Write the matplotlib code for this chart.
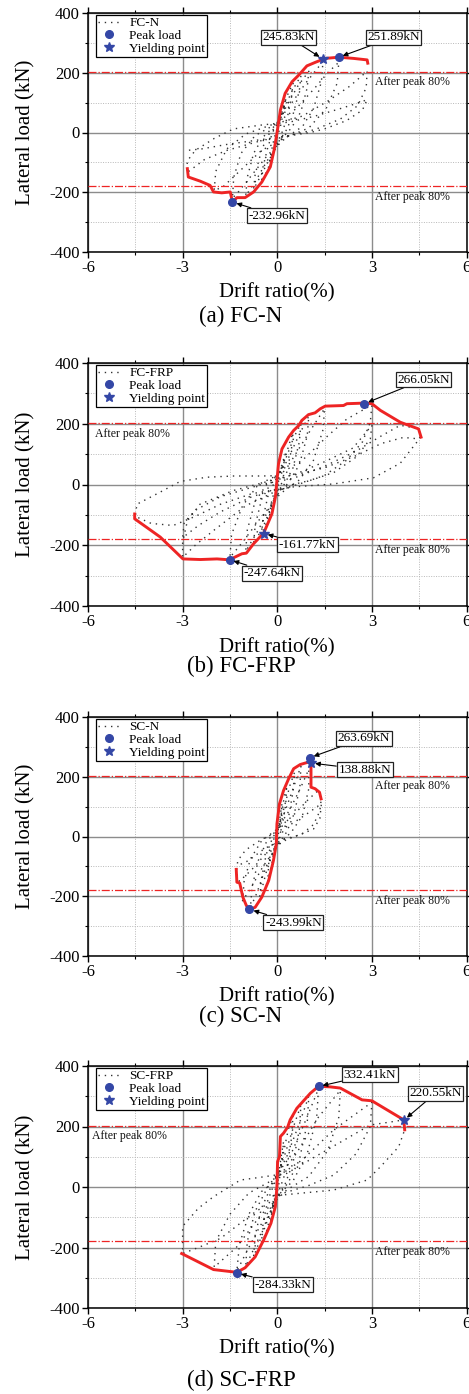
import numpy as np
import matplotlib
matplotlib.use("Agg")
import matplotlib.pyplot as plt
from matplotlib.ticker import MultipleLocator

plt.rcParams['font.family'] = ['Liberation Serif', 'DejaVu Serif']
plt.rcParams['axes.unicode_minus'] = False

# ---- data (drift %, load kN) ----
specimens = ['FC-N', 'FC-FRP', 'SC-N', 'SC-FRP']
captions = ['(a) FC-N', '(b) FC-FRP', '(c) SC-N', '(d) SC-FRP']

# hysteresis paths (dotted)
fcn_loop = [
    (0, 0), (0.08, 40), (0.18, 80), (0.25, 105), (0.2, 70), (0.1, 20), (0, -15), (-0.12, -60), (-0.25, -105),
    (-0.2, -70), (-0.1, -20), (0, 15),
    (0.15, 70), (0.3, 120), (0.5, 165), (0.45, 120), (0.32, 50), (0.15, 0), (0, -35), (-0.2, -95), (-0.35, -135),
    (-0.5, -165), (-0.45, -115), (-0.3, -50), (-0.15, 0), (0, 30),
    (0.2, 75), (0.45, 135), (0.75, 190), (0.7, 140), (0.5, 60), (0.3, 10), (0.05, -30), (-0.3, -100), (-0.55, -150),
    (-0.75, -190), (-0.7, -140), (-0.5, -60), (-0.3, -10), (0, 25),
    (0.3, 90), (0.65, 155), (1.0, 205), (0.95, 150), (0.75, 70), (0.45, 15), (0.1, -25), (-0.35, -100), (-0.7, -165),
    (-1.0, -212), (-0.95, -150), (-0.75, -70), (-0.45, -15), (-0.1, 20),
    (0.4, 90), (0.9, 165), (1.2, 205), (1.45, 238), (1.4, 170), (1.15, 80), (0.8, 20), (0.3, -15), (-0.3, -75),
    (-0.9, -155), (-1.2, -195), (-1.42, -220), (-1.38, -150), (-1.15, -70), (-0.7, -10), (-0.1, 25),
    (0.6, 80), (1.2, 150), (1.6, 200), (1.95, 235), (1.9, 165), (1.55, 80), (1.0, 15), (0.3, -15), (-0.5, -60),
    (-1.2, -130), (-1.7, -180), (-2.0, -195), (-1.95, -130), (-1.6, -55), (-1.0, -5), (-0.2, 25),
    (0.8, 55), (1.6, 105), (2.3, 155), (2.85, 205), (2.82, 150), (2.55, 90), (2.0, 45), (1.2, 10), (0.4, -10),
    (-0.6, -30), (-1.6, -60), (-2.3, -90), (-2.87, -135), (-2.85, -95), (-2.6, -60), (-2.0, -20), (-1.39, 12),
    (-0.5, 25), (0.4, 35),
    (1.2, 55), (2.0, 80), (2.6, 100), (2.85, 110), (2.7, 75), (2.2, 40), (1.5, 12), (1.05, 0), (0.3, -12),
    (-0.6, -25), (-1.6, -40), (-2.4, -55), (-2.87, -60),
]
fcfrp_loop = [
    (0, 0), (0.1, 50), (0.25, 100), (0.2, 60), (0.05, 5), (-0.1, -50), (-0.25, -110), (-0.2, -65), (-0.05, -5),
    (0.2, 70), (0.4, 140), (0.5, 170), (0.45, 115), (0.3, 40), (0.1, -5), (-0.15, -60), (-0.35, -130), (-0.5, -165),
    (-0.45, -110), (-0.3, -40), (-0.1, 5),
    (0.25, 80), (0.55, 160), (0.75, 200), (0.7, 140), (0.5, 55), (0.25, 5), (-0.1, -50), (-0.45, -140), (-0.75, -195),
    (-0.7, -135), (-0.5, -50), (-0.2, 5),
    (0.3, 75), (0.7, 165), (1.0, 225), (0.95, 160), (0.7, 65), (0.35, 5), (-0.1, -45), (-0.6, -150), (-1.0, -220),
    (-0.95, -150), (-0.7, -55), (-0.3, 5),
    (0.4, 70), (1.0, 170), (1.5, 250), (1.45, 180), (1.15, 80), (0.7, 15), (0.1, -30), (-0.6, -120), (-1.1, -190),
    (-1.5, -240), (-1.45, -165), (-1.1, -70), (-0.6, 0), (0, 30),
    (0.8, 80), (1.6, 160), (2.2, 215), (3.0, 262), (2.95, 205), (2.7, 140), (2.2, 80), (1.5, 30), (0.8, 5), (0, -20),
    (-1.0, -70), (-2.0, -150), (-2.6, -200), (-3.0, -240), (-3.0, -190), (-2.85, -120), (-2.45, -65), (-1.4, -20),
    (-0.3, 10),
    (0.6, 35), (1.5, 75), (2.4, 120), (3.0, 195), (2.95, 150), (2.5, 90), (1.8, 40), (1.1, 15), (0.3, -5),
    (-0.8, -40), (-1.8, -90), (-2.5, -135), (-3.0, -175), (-2.95, -125), (-2.6, -85), (-1.8, -40), (-0.5, 0),
    (0.5, 20), (1.5, 60), (2.5, 110), (3.3, 160), (3.9, 195), (4.5, 183), (4.52, 155), (4.43, 140), (3.9, 70),
    (3.05, 22), (1.8, 2), (0.5, -8), (-0.8, -30), (-1.8, -65), (-2.6, -105), (-3.3, -135), (-4.0, -128),
    (-4.5, -105), (-4.45, -65), (-3.71, -25), (-3.08, 10), (-2.23, 24), (-1.38, 28), (-0.5, 28), (0.5, 30),
    (1.5, 55), (2.5, 95), (3.3, 135), (4.0, 155), (4.5, 150),
]
scn_loop = [
    (0, 0), (0.08, 60), (0.15, 110), (0.12, 60), (0.03, 5), (-0.06, -50), (-0.15, -100), (-0.12, -55), (-0.03, 0),
    (0.1, 60), (0.22, 130), (0.3, 170), (0.27, 110), (0.15, 30), (0.0, -20), (-0.15, -80), (-0.3, -150),
    (-0.27, -90), (-0.15, -20), (0, 20),
    (0.2, 90), (0.4, 170), (0.55, 215), (0.5, 150), (0.35, 60), (0.15, 10), (-0.1, -40), (-0.35, -120),
    (-0.55, -200), (-0.5, -140), (-0.35, -60), (-0.15, -5), (0.05, 30),
    (0.3, 100), (0.55, 175), (0.75, 235), (0.72, 170), (0.55, 80), (0.3, 15), (0, -30), (-0.35, -100),
    (-0.65, -190), (-0.85, -238), (-0.8, -170), (-0.6, -80), (-0.35, -20), (0, 25),
    (0.4, 90), (0.75, 165), (1.0, 225), (1.0, 160), (0.8, 70), (0.45, 15), (0.05, -25), (-0.45, -100),
    (-0.85, -175), (-1.1, -215), (-1.05, -150), (-0.85, -75), (-0.5, -15), (0, 25),
    (0.5, 70), (0.95, 120), (1.25, 150), (1.4, 130), (1.35, 85), (1.15, 40), (0.8, 10), (0.3, -10), (-0.3, -50),
    (-0.8, -110), (-1.2, -150), (-1.3, -120), (-1.25, -80), (-1.0, -45), (-0.5, -10), (0, 15),
    (0.5, 45), (1.0, 80), (1.4, 110), (1.35, 60), (1.15, 25), (0.7, 5), (0.2, -10), (-0.4, -40), (-0.9, -80),
    (-1.3, -100),
]
scfrp_loop = [
    (0, 0), (0.08, 70), (0.2, 150), (0.15, 90), (0.05, 10), (-0.08, -60), (-0.2, -110), (-0.15, -60), (-0.05, 0),
    (0.15, 90), (0.35, 190), (0.5, 235), (0.45, 160), (0.3, 60), (0.1, 0), (-0.15, -70), (-0.35, -150),
    (-0.5, -185), (-0.45, -120), (-0.3, -45), (-0.1, 10),
    (0.25, 110), (0.55, 210), (0.75, 270), (0.7, 190), (0.5, 80), (0.25, 10), (-0.1, -50), (-0.45, -150),
    (-0.75, -230), (-0.7, -160), (-0.5, -70), (-0.2, 0),
    (0.3, 100), (0.7, 210), (1.0, 300), (0.95, 210), (0.7, 90), (0.35, 15), (-0.05, -40), (-0.5, -150),
    (-1.0, -262), (-0.95, -180), (-0.7, -80), (-0.3, 0),
    (0.4, 100), (0.9, 220), (1.31, 325), (1.25, 230), (0.95, 110), (0.5, 20), (0, -30), (-0.6, -140),
    (-1.0, -220), (-1.28, -278), (-1.2, -190), (-0.9, -90), (-0.5, -15), (0, 25),
    (0.6, 110), (1.3, 230), (2.0, 320), (1.95, 230), (1.6, 120), (1.0, 35), (0.3, -10), (-0.5, -90),
    (-1.3, -200), (-2.0, -265), (-1.95, -180), (-1.5, -90), (-0.9, -20), (-0.2, 20),
    (0.8, 90), (1.8, 190), (3.0, 280), (2.95, 200), (2.5, 110), (1.8, 40), (1.0, 5), (0.2, -20), (-0.8, -90),
    (-1.8, -170), (-2.5, -200), (-3.0, -220), (-3.0, -130), (-2.5, -70), (-2.02, -32), (-1.17, 23), (-0.54, 32),
    (0.3, 45),
    (1.2, 100), (2.2, 160), (2.95, 205), (3.6, 215), (4.01, 222), (4.04, 189), (3.85, 133), (3.3, 70),
    (2.85, 23), (1.79, -10), (0.8, -20), (-0.2, -30),
]

# skeleton (envelope) curves (red)
fcn_env = [
    (-2.85, -121), (-2.82, -149), (-2.44, -163), (-2.13, -177), (-2.02, -199), (-1.76, -202), (-1.49, -199),
    (-1.42, -233), (-1.28, -218), (-1.02, -218), (-0.75, -199), (-0.49, -166), (-0.22, -115), (-0.1, -59),
    (-0.01, -3), (0.1, 75), (0.25, 131), (0.47, 170), (0.68, 192), (0.94, 223), (1.21, 235), (1.45, 245),
    (1.52, 248), (1.95, 252), (2.42, 248), (2.85, 243), (2.87, 232),
]
fcfrp_env = [
    (-4.52, -97), (-4.52, -113), (-3.71, -173), (-2.99, -245), (-2.44, -247), (-1.91, -245), (-1.51, -248),
    (-1.38, -241), (-1.12, -228), (-0.98, -226), (-0.75, -195), (-0.43, -160), (-0.17, -97), (-0.06, -42),
    (-0.01, 13), (0.04, 68), (0.15, 117), (0.36, 156), (0.52, 178), (0.68, 194), (0.78, 211), (0.99, 230),
    (1.2, 236), (1.36, 249), (1.52, 258), (2.1, 260), (2.21, 266), (2.76, 268), (3.0, 266), (3.27, 244),
    (3.9, 205), (4.48, 183), (4.56, 156),
]
scn_env = [
    (-1.3, -110), (-1.28, -153), (-1.19, -156), (-1.09, -203), (-0.98, -231), (-0.88, -244), (-0.7, -237),
    (-0.49, -203), (-0.27, -147), (-0.12, -80), (-0.03, -25), (-0.01, 42), (0.07, 109), (0.2, 154), (0.36, 193),
    (0.52, 227), (0.73, 241), (0.99, 249), (1.03, 261), (1.07, 246), (1.07, 165), (1.2, 160), (1.34, 148),
    (1.39, 126),
]
scfrp_env = [
    (-3.03, -220), (-2.02, -273), (-1.28, -282), (-1.02, -267), (-0.7, -231), (-0.43, -175), (-0.2, -120),
    (-0.06, -65), (-0.01, 1), (0.01, 84), (0.07, 100), (0.1, 167), (0.2, 178), (0.33, 198), (0.41, 222),
    (0.62, 260), (1.05, 310), (1.31, 333), (1.68, 331), (2.0, 327), (2.69, 288), (3.0, 285), (4.01, 222),
    (4.04, 189),
]

# peak load points and yielding points
peak_points = [[(-1.42, -232.96), (1.95, 251.89)],
               [(-1.51, -247.64), (2.76, 266.05)],
               [(-0.88, -243.99), (1.03, 263.69)],
               [(-1.28, -284.33), (1.31, 332.41)]]
yield_points = [[(1.45, 245.83)],
                [(-0.43, -161.77)],
                [(1.07, 246.0)],
                [(4.01, 220.55)]]

# callout labels: text, point, box centre
callouts = [
    [('245.83kN', (1.45, 245.83), (0.36, 319)), ('251.89kN', (1.95, 251.89), (3.69, 319)),
     ('-232.96kN', (-1.42, -232.96), (-0.02, -279))],
    [('266.05kN', (2.76, 266.05), (4.64, 345)), ('-161.77kN', (-0.43, -161.77), (0.96, -198)),
     ('-247.64kN', (-1.51, -247.64), (-0.16, -292))],
    [('263.69kN', (1.03, 263.69), (2.75, 329)), ('138.88kN', (1.07, 246.0), (2.77, 224)),
     ('-243.99kN', (-0.88, -243.99), (0.51, -288))],
    [('332.41kN', (1.31, 332.41), (2.94, 371)), ('220.55kN', (4.01, 220.55), (5.02, 310)),
     ('-284.33kN', (-1.28, -284.33), (0.17, -323))],
]

after_peak_pos = 202
after_peak_neg = -179
after_peak_text = [[(3.1, 170), (3.1, -216)],
                   [(-5.78, 167), (3.1, -215)],
                   [(3.1, 168), (3.1, -216)],
                   [(-5.88, 170), (3.1, -214)]]

loops = [fcn_loop, fcfrp_loop, scn_loop, scfrp_loop]
envelopes = [fcn_env, fcfrp_env, scn_env, scfrp_env]

# ---- figure ----
W, H = 469, 1394
fig = plt.figure(figsize=(W / 100, H / 100), dpi=100)

panel_px = [(13, 252), (363, 606), (717, 956), (1066, 1308)]
caption_px = [316, 666, 1016, 1380]
left_px, right_px = 88, 466.5

blue = '#3447a6'
red = '#ee2424'

for i in range(4):
    top, bot = panel_px[i]
    ax = fig.add_axes([left_px / W, 1 - bot / H, (right_px - left_px) / W, (bot - top) / H])
    ax.set_xlim(-6, 6)
    ax.set_ylim(-400, 400)
    ax.xaxis.set_major_locator(MultipleLocator(3))
    ax.xaxis.set_minor_locator(MultipleLocator(1.5))
    ax.yaxis.set_major_locator(MultipleLocator(200))
    ax.yaxis.set_minor_locator(MultipleLocator(100))
    ax.grid(which='major', color='#8c8c8c', lw=1.0, ls='-', zorder=0)
    ax.grid(which='minor', color='#b8b8b8', lw=0.7, ls=(0, (1, 1.5)), zorder=0)
    ax.tick_params(which='both', direction='out', labelsize=12, pad=2,
                   top=True, right=True)
    ax.tick_params(which='major', length=4, width=1)
    ax.tick_params(which='minor', length=2.5, width=0.8)
    for s in ax.spines.values():
        s.set_linewidth(1.1)

    lp = np.array(loops[i])
    ax.plot(lp[:, 0], lp[:, 1], color='#333333', lw=1.0, ls=(0, (1, 3.5)), zorder=2,
            label=specimens[i])

    ax.axhline(after_peak_pos, color=red, lw=0.9, ls='-.', zorder=3)
    ax.axhline(after_peak_neg, color=red, lw=0.9, ls='-.', zorder=3)

    ev = np.array(envelopes[i])
    ax.plot(ev[:, 0], ev[:, 1], color=red, lw=2.1, zorder=4)

    pk = np.array(peak_points[i])
    ax.plot(pk[:, 0], pk[:, 1], 'o', color=blue, ms=5.5, ls='none', zorder=5, label='Peak load')
    yp = np.array(yield_points[i])
    ax.plot(yp[:, 0], yp[:, 1], '*', color=blue, ms=7, ls='none', zorder=5, label='Yielding point')

    for (tx, ty) in after_peak_text[i]:
        ax.text(tx, ty, 'After peak 80%', fontsize=8.5, color='#111111', ha='left', va='center', zorder=6)

    for txt, pt, box in callouts[i]:
        ax.annotate(txt, xy=pt, xytext=box, ha='center', va='center', fontsize=9.5, zorder=7,
                    bbox=dict(boxstyle='square,pad=0.12', fc='white', ec='#222222', lw=0.9),
                    arrowprops=dict(arrowstyle='-|>', color='black', lw=0.8, mutation_scale=7,
                                    shrinkA=0, shrinkB=3))

    leg = ax.legend(loc='upper left', bbox_to_anchor=(0.02, 0.992), fontsize=9.5, frameon=True,
                    fancybox=False, edgecolor='black', framealpha=1, borderpad=0.15, labelspacing=0.05,
                    handlelength=1.8, handletextpad=0.6, borderaxespad=0)
    leg.get_frame().set_linewidth(0.9)
    leg.set_zorder(8)

    ax.set_xlabel('Drift ratio(%)', fontsize=15)
    ax.set_ylabel('Lateral load (kN)', fontsize=15)
    ax.xaxis.set_label_coords(0.5, -0.13)
    ax.yaxis.set_label_coords(-0.14, 0.5)

    fig.text(241 / W, 1 - caption_px[i] / H, captions[i], fontsize=16.5, ha='center', va='center')

fig.savefig('out.png', dpi=100)
